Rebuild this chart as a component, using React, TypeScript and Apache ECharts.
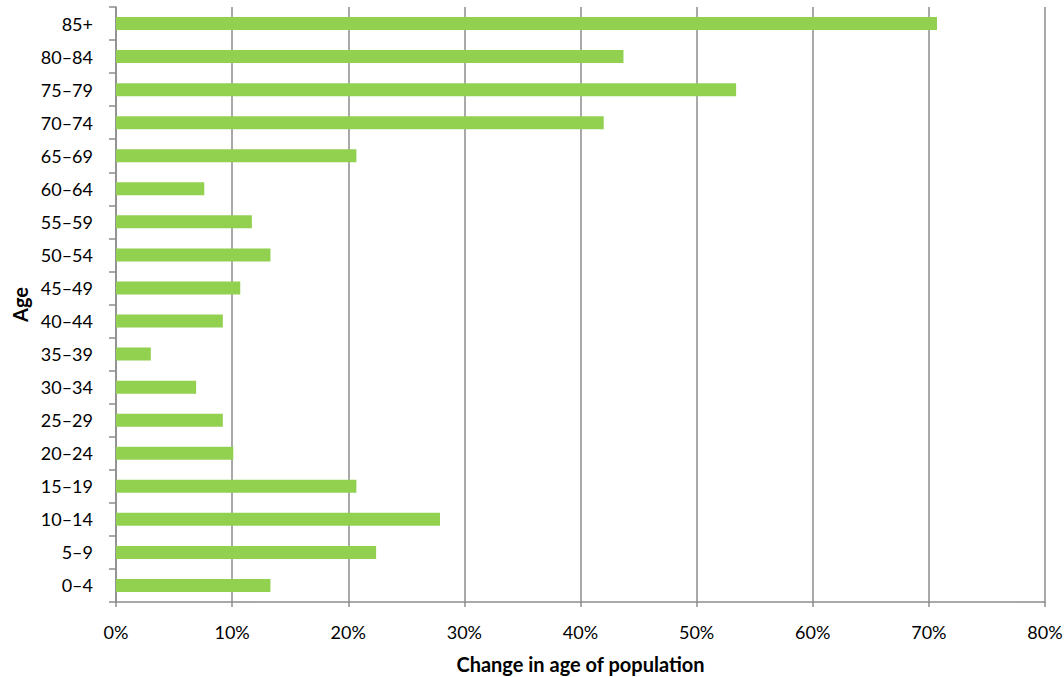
import React, { useEffect, useRef } from "react";
import * as echarts from "echarts";

// Age groups, listed from bottom (youngest) to top (oldest)
const ageGroups = [
  "0–4", "5–9", "10–14", "15–19", "20–24", "25–29", "30–34", "35–39", "40–44",
  "45–49", "50–54", "55–59", "60–64", "65–69", "70–74", "75–79", "80–84", "85+",
];

// Percentage change in each age group's population
const changePct = [
  13.3, 22.4, 27.9, 20.7, 10.1, 9.2, 6.9, 3.0, 9.2,
  10.7, 13.3, 11.7, 7.6, 20.7, 42.0, 53.4, 43.7, 70.7,
];

const xMin = 0;
const xMax = 80;
const xStep = 10;

const FONT = "Lato, 'Open Sans', sans-serif";
const GRID_GRAY = "#8c8c8c";

export default function App() {
  const ref = useRef<HTMLDivElement>(null);

  useEffect(() => {
    if (!ref.current) return;
    const chart = echarts.init(ref.current, null, { renderer: "svg" });
    chart.setOption({
      animation: false,
      backgroundColor: "#ffffff",
      grid: {
        left: 116,
        right: 19,
        top: 7,
        bottom: 75,
        containLabel: false,
        outerBoundsMode: "none",
      },
      xAxis: {
        type: "value",
        min: xMin,
        max: xMax,
        interval: xStep,
        name: "Change in age of population",
        nameLocation: "middle",
        nameGap: 52,
        nameTextStyle: { fontFamily: FONT, fontSize: 20, fontWeight: "bold", color: "#000" },
        axisLine: { show: true, lineStyle: { color: GRID_GRAY, width: 1.5 } },
        axisTick: { show: true, length: 5, lineStyle: { color: GRID_GRAY, width: 1.5 } },
        axisLabel: {
          formatter: "{value}%",
          margin: 21,
          fontFamily: FONT,
          fontSize: 18,
          color: "#000",
        },
        splitLine: { show: true, lineStyle: { color: GRID_GRAY, width: 1.5 } },
      },
      yAxis: {
        type: "category",
        data: ageGroups,
        name: "Age",
        nameLocation: "middle",
        nameGap: 84,
        nameRotate: 90,
        nameTextStyle: { fontFamily: FONT, fontSize: 20, fontWeight: "bold", color: "#000" },
        axisLine: { show: true, lineStyle: { color: GRID_GRAY, width: 1.5 } },
        axisTick: { show: true, length: 7, alignWithLabel: false, lineStyle: { color: GRID_GRAY, width: 1.5 } },
        axisLabel: { margin: 23, fontFamily: FONT, fontSize: 18, color: "#000" },
        splitLine: { show: false },
      },
      series: [
        {
          type: "bar",
          data: changePct,
          barWidth: 13,
          itemStyle: { color: "#92d050" },
        },
      ],
    });
    return () => chart.dispose();
  }, []);

  return (
    <div
      ref={ref}
      style={{ position: "fixed", left: 0, top: 0, width: 1064, height: 677, background: "#fff" }}
    />
  );
}
